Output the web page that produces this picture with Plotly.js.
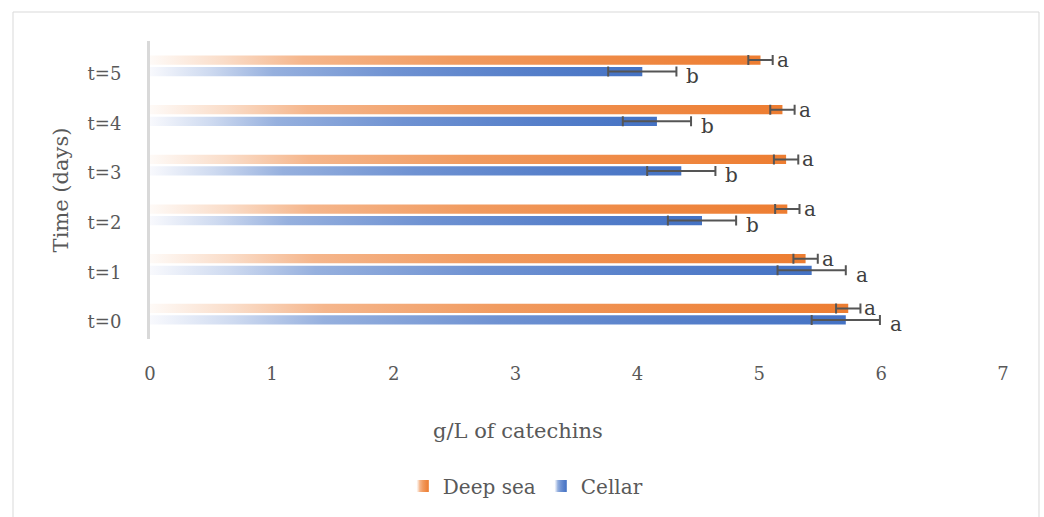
<!DOCTYPE html>
<html>
<head>
<meta charset="utf-8">
<script src="https://cdn.plot.ly/plotly-3.0.1.min.js"></script>
<style>
  html, body { margin: 0; padding: 0; background: #ffffff; }
  #chart { width: 1044px; height: 517px; }
</style>
</head>
<body>
<div id="chart"></div>
<script>
// ---- data ----
const categories = ['t=0', 't=1', 't=2', 't=3', 't=4', 't=5'];
const deepSea = [5.73, 5.38, 5.23, 5.22, 5.19, 5.01];
const deepSeaErr = [0.10, 0.10, 0.10, 0.10, 0.10, 0.10];
const cellar = [5.71, 5.43, 4.53, 4.36, 4.16, 4.04];
const cellarErr = [0.28, 0.28, 0.28, 0.28, 0.28, 0.28];
const deepSeaLetters = ['a', 'a', 'a', 'a', 'a', 'a'];
const cellarLetters = ['a', 'a', 'b', 'b', 'b', 'b'];
const xTickVals = [0, 1, 2, 3, 4, 5, 6, 7];

// ---- styles ----
const FONT = 'DejaVu Serif, Liberation Serif, serif';
const TEXT_GREY = '#595959';
const ORANGE = [237, 125, 49];
const BLUE = [68, 114, 196];
const rgb = c => 'rgb(' + c.join(',') + ')';

const errStyle = { color: '#555555', thickness: 2, width: 5 };

const traces = [
  {
    type: 'bar', orientation: 'h', name: 'Cellar',
    y: categories, x: cellar,
    marker: { color: rgb(BLUE) },
    error_x: Object.assign({ type: 'data', array: cellarErr, visible: true }, errStyle),
    hoverinfo: 'x+name'
  },
  {
    type: 'bar', orientation: 'h', name: 'Deep sea',
    y: categories, x: deepSea,
    marker: { color: rgb(ORANGE) },
    error_x: Object.assign({ type: 'data', array: deepSeaErr, visible: true }, errStyle),
    hoverinfo: 'x+name'
  }
];

// significance letters, placed after each error bar
const annotations = [];
categories.forEach((c, i) => {
  annotations.push({
    x: deepSea[i] + deepSeaErr[i], y: c, xref: 'x', yref: 'y',
    text: deepSeaLetters[i], showarrow: false, xanchor: 'left', yanchor: 'middle',
    xshift: 2, yshift: 6, font: { family: FONT, size: 20, color: '#404040' }
  });
  annotations.push({
    x: cellar[i] + cellarErr[i], y: c, xref: 'x', yref: 'y',
    text: cellarLetters[i], showarrow: false, xanchor: 'left', yanchor: 'middle',
    xshift: 8, yshift: -10, font: { family: FONT, size: 20, color: '#404040' }
  });
});
annotations.push({
  text: 'g/L of catechins', xref: 'paper', yref: 'paper',
  x: 0.432, y: -0.31, xanchor: 'center', yanchor: 'middle', showarrow: false,
  font: { family: FONT, size: 21, color: TEXT_GREY }
});

const layout = {
  width: 1044, height: 517, autosize: false,
  paper_bgcolor: '#ffffff', plot_bgcolor: '#ffffff',
  margin: { l: 150, r: 41, t: 41, b: 178, pad: 0 },
  barmode: 'group', bargap: 0.535, bargroupgap: 0.2,
  showlegend: true,
  legend: {
    orientation: 'h', x: 0.44, xanchor: 'center', y: -0.493, yanchor: 'middle',
    traceorder: 'reversed', font: { family: FONT, size: 20, color: TEXT_GREY },
    bgcolor: 'rgba(0,0,0,0)'
  },
  xaxis: {
    range: [0, 7], tickmode: 'array', tickvals: xTickVals,
    showgrid: false, zeroline: false, showline: false, ticks: '',
    tickfont: { family: FONT, size: 18, color: TEXT_GREY },
    ticklabelstandoff: 22, fixedrange: true
  },
  yaxis: {
    type: 'category', categoryorder: 'array', categoryarray: categories,
    range: [-0.5, 5.5],
    showgrid: false, zeroline: false, showline: true, linecolor: '#d9d9d9', linewidth: 3,
    ticks: '', tickfont: { family: FONT, size: 18, color: TEXT_GREY },
    ticklabelstandoff: 22, ticklabelshift: 8,
    title: { text: 'Time (days)', font: { family: FONT, size: 21, color: TEXT_GREY }, standoff: 14 },
    fixedrange: true
  },
  annotations: annotations,
  shapes: [{
    type: 'rect', xref: 'paper', yref: 'paper',
    x0: -0.1606, x1: 1.0422, y0: -0.62, y1: 1.0973,
    line: { color: '#d9d9d9', width: 1 }, fillcolor: 'rgba(0,0,0,0)', layer: 'below'
  }]
};

// Excel-like horizontal fade (white -> series colour), applied to each bar
const fadeStops = [[0, 0.96], [0.12, 0.74], [0.25, 0.44], [0.5, 0.23], [0.75, 0.1], [1, 0]];
function mix(c, a) { return rgb(c.map(v => Math.round(v + a * (255 - v)))); }

function applyGradients() {
  const gd = document.getElementById('chart');
  const svg = gd.querySelector('svg.main-svg');
  if (!svg) return;
  let defs = svg.querySelector('defs');
  if (!defs) { defs = document.createElementNS('http://www.w3.org/2000/svg', 'defs'); svg.insertBefore(defs, svg.firstChild); }
  const ns = 'http://www.w3.org/2000/svg';
  const grads = { 'Deep sea': ['gradDeep', ORANGE], 'Cellar': ['gradCellar', BLUE] };
  Object.keys(grads).forEach(name => {
    const [id, col] = grads[name];
    if (svg.querySelector('#' + id)) return;
    const lg = document.createElementNS(ns, 'linearGradient');
    lg.setAttribute('id', id);
    lg.setAttribute('x1', '0'); lg.setAttribute('y1', '0');
    lg.setAttribute('x2', '1'); lg.setAttribute('y2', '0');
    fadeStops.forEach(([o, a]) => {
      const st = document.createElementNS(ns, 'stop');
      st.setAttribute('offset', o);
      st.setAttribute('stop-color', mix(col, a));
      lg.appendChild(st);
    });
    defs.appendChild(lg);
  });
  gd.querySelectorAll('.barlayer .trace').forEach(tr => {
    const d = tr.__data__;
    const t = d && d[0] && d[0].trace;
    if (!t || !grads[t.name]) return;
    tr.querySelectorAll('.point path').forEach(p => { p.style.fill = 'url(#' + grads[t.name][0] + ')'; });
  });
  gd.querySelectorAll('.legend .traces').forEach(tr => {
    const txt = tr.querySelector('.legendtext');
    const name = txt ? txt.textContent : '';
    if (!grads[name]) return;
    tr.querySelectorAll('.legendpoints path').forEach(p => { p.style.fill = 'url(#' + grads[name][0] + ')'; });
  });
}

Plotly.newPlot('chart', traces, layout, { displayModeBar: false }).then(gd => {
  applyGradients();
  gd.on('plotly_afterplot', applyGradients);
});
</script>
</body>
</html>
